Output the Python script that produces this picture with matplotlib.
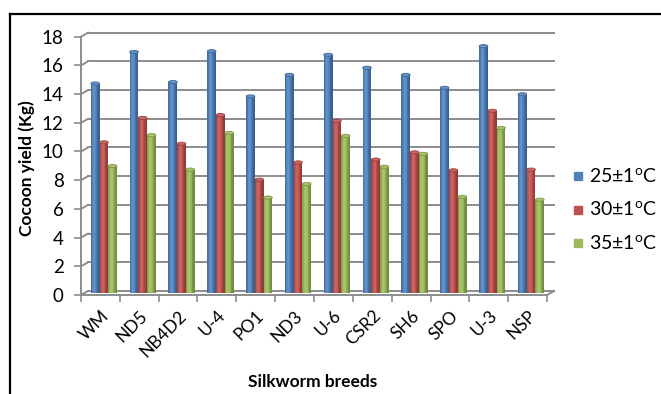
import numpy as np
import matplotlib
matplotlib.use("Agg")
import matplotlib.pyplot as plt
from matplotlib.patches import Ellipse
from matplotlib.lines import Line2D

# Cocoon yield (kg) of silkworm breeds at three rearing temperatures
breeds = ["WM", "ND5", "NB4D2", "U-4", "PO1", "ND3", "U-6", "CSR2", "SH6", "SPO", "U-3", "NSP"]
yield_25 = [14.6, 16.8, 14.7, 16.85, 13.7, 15.2, 16.6, 15.7, 15.2, 14.3, 17.2, 13.85]
yield_30 = [10.5, 12.2, 10.4, 12.4, 7.9, 9.1, 12.0, 9.3, 9.8, 8.55, 12.7, 8.6]
yield_35 = [8.85, 11.0, 8.6, 11.15, 6.65, 7.6, 10.95, 8.8, 9.7, 6.7, 11.5, 6.5]
series_labels = [r"25±1$^{\mathregular{o}}$C", r"30±1$^{\mathregular{o}}$C", r"35±1$^{\mathregular{o}}$C"]
y_ticks = list(range(0, 19, 2))

series = [yield_25, yield_30, yield_35]
colors = ["#4F81BD", "#C0504D", "#9BBB59"]
grid_color = "#8C8C8C"

plt.rcParams["font.family"] = ["Lato", "DejaVu Sans"]

W, H = 661, 394
fig = plt.figure(figsize=(W / 100, H / 100), dpi=100)
ax = fig.add_axes([81 / W, 1 - 295 / H, 466 / W, (295 - 36.7) / H])
ax.set_xlim(-0.5, len(breeds) - 0.5)
ax.set_ylim(0, 18)

# depth of the pseudo-3D box, converted from pixels to data units
inv = ax.transData.inverted()
p0 = ax.transData.transform((0, 0))
dxd, dyd = inv.transform(p0 + np.array([7.0, 4.0])) - inv.transform(p0)

# back wall gridlines with short diagonal stubs to the front axis
for v in y_ticks:
    ax.plot([-0.5 + dxd, len(breeds) - 0.5 + dxd], [v + dyd, v + dyd],
            color=grid_color, lw=1.4, clip_on=False, zorder=1)
    ax.plot([-0.5, -0.5 + dxd], [v, v + dyd], color=grid_color, lw=1.4,
            clip_on=False, zorder=1)
ax.plot([len(breeds) - 0.5, len(breeds) - 0.5 + dxd], [0, dyd],
        color=grid_color, lw=1.4, clip_on=False, zorder=1)

# cylinder-like bars built from thin vertical strips
x = np.arange(len(breeds))
w = 0.225
n_strips = 12
t = (np.arange(n_strips) + 0.5) / n_strips
shade = 0.72 + 0.42 * np.exp(-((t - 0.38) / 0.32) ** 2)


def shaded(color, f):
    c = np.array(matplotlib.colors.to_rgb(color))
    if f <= 1:
        return tuple(c * f)
    return tuple(c + (1 - c) * (f - 1) * 0.9)


for s, (vals, col) in enumerate(zip(series, colors)):
    vals = np.asarray(vals)
    left = x + (s - 1) * w - w / 2 + dxd / 2
    for k in range(n_strips):
        ax.bar(left + (k + 0.5) * w / n_strips, vals, width=w / n_strips * 1.02,
               bottom=dyd / 2, color=shaded(col, shade[k]), linewidth=0, zorder=3)
    for xi, v in zip(left + w / 2, vals):
        ax.add_patch(Ellipse((xi, v + dyd / 2), w, 0.22, facecolor=shaded(col, 1.15),
                             edgecolor=shaded(col, 0.8), lw=0.6, zorder=4, clip_on=False))

# axes styling
for side in ("top", "right"):
    ax.spines[side].set_visible(False)
for side in ("left", "bottom"):
    ax.spines[side].set_color(grid_color)
    ax.spines[side].set_linewidth(1.4)

ax.set_yticks(y_ticks)
ax.tick_params(axis="y", length=5, width=1.2, color=grid_color, labelsize=13.5, pad=7.5)
ax.set_xticks(x)
ax.set_xticklabels(breeds, rotation=45, ha="right", va="top", rotation_mode="anchor")
ax.set_xticks(np.arange(-0.5, len(breeds)), minor=True)
ax.tick_params(axis="x", which="major", length=0, labelsize=12.5, pad=9)
ax.tick_params(axis="x", which="minor", length=5, width=1.2, color=grid_color)

ax.set_ylabel("Cocoon yield (Kg)", fontweight="bold", fontsize=12.5)
ax.yaxis.set_label_coords(-0.098, 0.49)
fig.text(313 / W, 1 - 382 / H, "Silkworm breeds", ha="center", va="center",
         fontweight="bold", fontsize=12.5)

handles = [Line2D([], [], marker="s", linestyle="none", markersize=6, color=c) for c in colors]
fig.legend(handles, series_labels, loc="center left", bbox_to_anchor=(560 / W, 1 - 210 / H),
           frameon=False, fontsize=14, labelspacing=0.75, handletextpad=0.2,
           handlelength=0.8, borderpad=0)

# outer frame
fig.add_artist(Line2D([10 / W, 10 / W], [0, 1 - 14 / H], transform=fig.transFigure,
                      color="black", lw=1.6))
fig.add_artist(Line2D([10 / W, 1], [1 - 14 / H, 1 - 14 / H], transform=fig.transFigure,
                      color="black", lw=1.6))

fig.savefig("out.png", dpi=100)
